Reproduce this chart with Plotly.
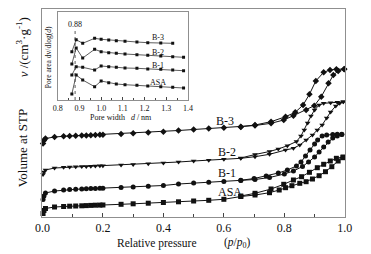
import plotly.graph_objects as go

# ---------------- data (main isotherms, arbitrary volume units) ----------------
P_LOW = [0.002, 0.005, 0.01, 0.04, 0.07, 0.09, 0.11, 0.13, 0.145, 0.16, 0.175, 0.19,
         0.2, 0.26, 0.3, 0.35, 0.4, 0.45, 0.5, 0.55, 0.6]

asa_ads_p = P_LOW + [0.656, 0.703, 0.751, 0.783, 0.804, 0.825, 0.851, 0.872, 0.893,
                     0.915, 0.936, 0.957, 0.978, 0.994]
asa_ads_v = [3.5, 6.5, 8.5, 10, 10.5, 10.8, 11, 11.2, 11.4, 11.6, 11.8, 11.9, 12, 12.7,
             13.2, 13.8, 14.5, 15.2, 16, 16.7, 17.7,
             20.5, 22, 24.3, 27, 29.3, 31.3, 33.7, 35.3, 38, 41.3, 45.3, 50.3, 56, 59.3]
asa_des_p = [0.994, 0.972, 0.952, 0.930, 0.909, 0.883, 0.857, 0.830, 0.798, 0.756, 0.703, 0.656]
asa_des_v = [60, 58.7, 56, 52.7, 49.3, 44.7, 40.3, 37, 32.7, 28, 23.7, 21]

b1_ads_p = P_LOW + [0.656, 0.703, 0.751, 0.8, 0.83, 0.86, 0.88, 0.9, 0.915, 0.93,
                    0.945, 0.96, 0.975, 0.99]
b1_ads_v = [17.5, 21, 24, 26, 27, 27.4, 27.7, 28, 28.2, 28.4, 28.6, 28.7, 28.8, 29.5,
            30, 30.7, 31.5, 33, 34, 34.7, 35.5,
            36.5, 37.5, 39.5, 43, 46, 50.5, 55, 60, 65, 70, 75, 79, 81, 82.5]
b1_des_p = [0.99, 0.975, 0.96, 0.94, 0.925, 0.91, 0.9, 0.885, 0.87, 0.855, 0.84, 0.81,
            0.78, 0.74, 0.7, 0.656]
b1_des_v = [82.7, 82.7, 82.5, 82, 81, 77, 73, 67, 61, 55, 51, 47, 44, 41, 38.5, 36.7]

b2_ads_p = P_LOW + [0.656, 0.703, 0.751, 0.804, 0.83, 0.851, 0.872, 0.893, 0.909, 0.925,
                    0.94, 0.953, 0.97, 0.983, 0.995]
b2_ads_v = [42.5, 45, 47, 49, 49.7, 50, 50.2, 50.4, 50.6, 50.8, 51, 51.2, 51.3, 52,
            52.5, 53.2, 54, 55, 56, 56.8, 57.7,
            58.7, 60.3, 62.7, 67, 68.7, 72, 77, 82, 87, 92, 99, 105, 111, 113.7, 115.3]
b2_des_p = [0.995, 0.975, 0.953, 0.93, 0.915, 0.9, 0.888, 0.877, 0.866, 0.855, 0.84,
            0.81, 0.78, 0.751, 0.703, 0.656]
b2_des_v = [115.3, 114.7, 114.3, 113.7, 112, 107, 101, 94, 87, 81, 75.5, 71.3, 68,
            65.5, 62.5, 59]

b3_ads_p = P_LOW + [0.656, 0.703, 0.756, 0.798, 0.83, 0.872, 0.899, 0.922, 0.946,
                    0.962, 0.978, 0.998]
b3_ads_v = [73.5, 76.5, 78.5, 80, 80.7, 81, 81.2, 81.4, 81.6, 81.8, 82, 82.2, 82.3, 83,
            83.7, 84.4, 85.3, 86.5, 87.5, 88.5, 89.2,
            90, 91.5, 93.7, 97, 101.3, 107, 111.3, 120.3, 133.7, 142, 146, 147.7]
b3_des_p = [0.998, 0.972, 0.951, 0.93, 0.904, 0.883, 0.862, 0.836, 0.804, 0.756, 0.703, 0.656]
b3_des_v = [148, 147.7, 147, 144.7, 136, 122.7, 112, 104.7, 100.3, 95.3, 92, 90.3]

names = ["ASA", "B-1", "B-2", "B-3"]
symbols = ["square", "circle", "triangle-down", "diamond"]
label_p = [0.619, 0.609, 0.609, 0.603]
label_v = [25.3, 43.7, 65.3, 96]

x_ticks = [0.0, 0.2, 0.4, 0.6, 0.8, 1.0]
x_ticktext = ["0.0", "0.2", "0.4", "0.6", "0.8", "1.0"]

# ---------------- inset data (pore-size distribution) ----------------
d_nm = [0.865, 0.885, 0.915, 0.97, 1.0, 1.035, 1.07, 1.11, 1.165, 1.215, 1.275, 1.33, 1.38]
psd_asa = [6, 25, 20, 13.3, 19, 17.3, 16, 15.3, 14.7, 14, 13.3, 12.7, 12]
psd_b1 = [25, 33.3, 32.7, 30, 34, 33.3, 32.7, 32, 31.7, 31, 30.7, 30, 29.3]
psd_b2 = [36, 52, 42, 50.7, 48.3, 47.3, 46.7, 46, 45.3, 44.7, 44, 43.3, 42.7]
psd_b3 = [48.3, 60.3, 56.7, 61.7, 60.7, 60, 59.3, 58.7, 58, 57.3, 57, 56.7]
peak_d = 0.88
inset_label_d = 1.263
inset_label_v = [18, 35, 48, 63]
inset_ticks = [0.8, 0.9, 1.0, 1.1, 1.2, 1.3, 1.4]
inset_ticktext = ["0.8", "0.9", "1.0", "1.1", "1.2", "1.3", "1.4"]

# ---------------- figure ----------------
W, H = 371, 254
FONT = "'Liberation Serif', 'Times New Roman', serif"
FRAME = "#8f8f8f"
INK = "#111111"

def fx(px):
    return px / W

def fy(py):
    return 1 - py / H

fig = go.Figure()

iso = [
    (asa_ads_p + asa_des_p, asa_ads_v + asa_des_v),
    (b1_ads_p + b1_des_p, b1_ads_v + b1_des_v),
    (b2_ads_p + b2_des_p, b2_ads_v + b2_des_v),
    (b3_ads_p + b3_des_p, b3_ads_v + b3_des_v),
]
for (xs, ys), nm, sym in zip(iso, names, symbols):
    fig.add_trace(go.Scatter(
        x=xs, y=ys, mode="lines+markers", name=nm, cliponaxis=False,
        line=dict(color=INK, width=1),
        marker=dict(symbol=sym, size=5, color=INK, line=dict(width=0)),
        xaxis="x", yaxis="y", showlegend=False))

psd = [(d_nm, psd_asa), (d_nm, psd_b1), (d_nm, psd_b2), (d_nm[:len(psd_b3)], psd_b3)]
for (xs, ys), nm in zip(psd, names):
    fig.add_trace(go.Scatter(
        x=xs, y=ys, mode="lines+markers", name=nm + " PSD",
        line=dict(color="#333333", width=0.8),
        marker=dict(symbol="square", size=3, color=INK),
        xaxis="x2", yaxis="y2", showlegend=False))

fig.add_trace(go.Scatter(
    x=[peak_d, peak_d], y=[0, 70], mode="lines",
    line=dict(color="#333333", width=0.8, dash="dot"),
    xaxis="x2", yaxis="y2", showlegend=False))


def ann(x, y, text, size, xref="paper", yref="paper", angle=0):
    return dict(x=x, y=y, xref=xref, yref=yref, text=text, showarrow=False,
                xanchor="center", yanchor="middle", textangle=angle,
                font=dict(family=FONT, size=size, color=INK))


annotations = []
for nm, lp, lv in zip(names, label_p, label_v):
    annotations.append(ann(lp, lv, nm, 12, "x", "y"))
for nm, lv in zip(names, inset_label_v):
    annotations.append(ann(inset_label_d, lv, nm, 8, "x2", "y2"))
annotations.append(ann(peak_d, 76, "0.88", 8, "x2", "y2"))
# axis titles
annotations += [
    ann(fx(15), fy(148), "Volume at STP", 13, angle=-90),
    ann(fx(15), fy(47), "<i>v</i> /(cm<sup>3</sup>·g<sup>-1</sup>)", 13, angle=-90),
    ann(fx(156), fy(243), "Relative pressure", 11.5),
    ann(fx(240), fy(243), "(<i>p</i>/<i>p</i><sub>0</sub>)", 11.5),
    ann(fx(42), fy(57), "Pore area dv/dlog(<i>d</i>)", 7.5, angle=-90),
    ann(fx(118), fy(117), "Pore width   <i>d</i> / nm", 8),
]

fig.update_layout(
    width=W, height=H, margin=dict(l=0, r=0, t=0, b=0),
    paper_bgcolor="white", plot_bgcolor="rgba(0,0,0,0)",
    annotations=annotations,
    xaxis=dict(domain=[fx(36), fx(352)], range=[0, 1], tickvals=x_ticks,
               ticktext=x_ticktext, ticks="inside", ticklen=4, tickwidth=1,
               tickcolor="#444", showline=True, linecolor=FRAME, linewidth=1,
               mirror=True, showgrid=False, zeroline=False,
               tickfont=dict(family=FONT, size=12, color=INK),
               minor=dict(tickvals=[0.1, 0.3, 0.5, 0.7, 0.9], ticks="inside",
                          ticklen=3, tickcolor="#444")),
    yaxis=dict(domain=[fy(217), fy(9)], range=[0, 208], showticklabels=False,
               ticks="", showline=True, linecolor=FRAME, linewidth=1, mirror=True,
               showgrid=False, zeroline=False),
    xaxis2=dict(domain=[fx(52), fx(188)], range=[0.8, 1.4], anchor="y2",
                tickvals=inset_ticks, ticktext=inset_ticktext, ticks="inside",
                ticklen=3, tickwidth=1, tickcolor="#444", showline=True,
                linecolor=FRAME, linewidth=1, mirror=True, showgrid=False,
                zeroline=False, tickfont=dict(family=FONT, size=8, color=INK),
                minor=dict(tickvals=[0.85, 0.95, 1.05, 1.15, 1.25, 1.35],
                           ticks="inside", ticklen=2, tickcolor="#444")),
    yaxis2=dict(domain=[fy(100), fy(12)], range=[0, 88], anchor="x2",
                showticklabels=False, ticks="", showline=True, linecolor=FRAME,
                linewidth=1, mirror=True, showgrid=False, zeroline=False),
)

fig.write_html("out.html", config={"displayModeBar": False, "staticPlot": True},
               post_script="document.body.style.margin='0';"
                           "document.body.style.overflow='hidden';")
